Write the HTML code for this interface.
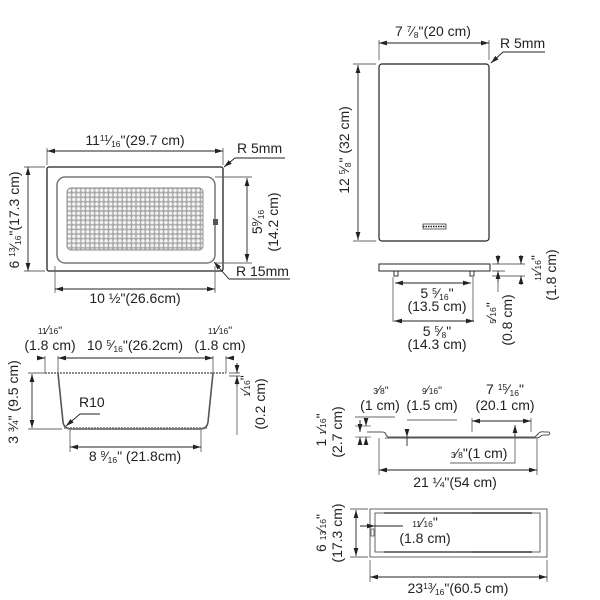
<!DOCTYPE html>
<html><head><meta charset="utf-8"><style>
html,body{margin:0;padding:0;background:#fff;}
svg{display:block;}
text{font-family:"Liberation Sans",Arial,sans-serif;font-size:14px;fill:#222;}
.s{font-size:8.5px;}
</style></head><body>
<svg width="600" height="600" viewBox="0 0 600 600" xmlns="http://www.w3.org/2000/svg">
<defs>
<marker id="a" viewBox="0 0 10 6" refX="10" refY="3" markerWidth="8" markerHeight="5" orient="auto-start-reverse" markerUnits="userSpaceOnUse"><path d="M0,0 L10,3 L0,6z" fill="#222"/></marker>
<pattern id="dots" x="67" y="188" width="4.6" height="4.6" patternUnits="userSpaceOnUse"><rect width="4.6" height="4.6" fill="#aaa"/><circle cx="2.3" cy="2.3" r="1.75" fill="#f4f4f4"/></pattern>
</defs>
<g stroke="#222" fill="none" stroke-width="0.9">
<rect x="47" y="167" width="176" height="104" rx="2" stroke-width="1.3"/>
<rect x="57" y="177" width="158" height="86" rx="8" stroke="#777" stroke-width="1.5"/>
<rect x="67" y="188" width="136" height="62" rx="4" fill="url(#dots)" stroke="#888"/>
<rect x="213" y="219" width="5" height="6" fill="#555" stroke="none"/>
<path d="M47,148 V165 M223,148 V165" stroke="#666"/>
<path d="M47,151 H223" marker-start="url(#a)" marker-end="url(#a)"/>
<path d="M24,167 H45 M24,271 H45" stroke="#666"/>
<path d="M28,167 V271" marker-start="url(#a)" marker-end="url(#a)"/>
<path d="M215,177 H252 M215,263 H252" stroke="#666"/>
<path d="M247,178 V262" marker-start="url(#a)" marker-end="url(#a)"/>
<path d="M55,266 V293 M215,266 V293" stroke="#666"/>
<path d="M55,289 H215" marker-start="url(#a)" marker-end="url(#a)"/>
<path d="M285,158 H235 L224,167" marker-end="url(#a)"/>
<path d="M290,279 H229 L214,262" marker-end="url(#a)"/>
<path d="M45,373 H226" stroke="#666" stroke-width="1.6" stroke-dasharray="2 1"/>
<path d="M58,373 L63,422 Q64,429 72,429 H200 Q207,429 208,422 L213,373" stroke="#555" stroke-width="1.6"/>
<path d="M64,428 H207" stroke="#777" stroke-width="1.5" stroke-dasharray="2 1"/>
<path d="M45,356 V373 M58,356 V373 M213,356 V373 M226,356 V373" stroke="#666"/>
<path d="M37,358 H45" marker-end="url(#a)"/><path d="M58,358 H213" marker-start="url(#a)" marker-end="url(#a)"/><path d="M234,358 H226" marker-end="url(#a)"/>
<path d="M28,373 H45 M28,429 H62" stroke="#666"/>
<path d="M32,374 V428" marker-start="url(#a)" marker-end="url(#a)"/>
<path d="M70,430 V452 M201,430 V452" stroke="#666"/>
<path d="M70,447 H201" marker-start="url(#a)" marker-end="url(#a)"/>
<path d="M100,414 H80 L66,426" marker-end="url(#a)"/>
<path d="M229,373 H240 M229,376 H240" stroke="#666"/>
<path d="M237,363 V373" marker-end="url(#a)"/><path d="M237,386 V376" marker-end="url(#a)"/><path d="M237,386 V435" stroke="#666"/>
<rect x="379" y="64" width="110" height="177" rx="3" stroke-width="1.2"/>
<rect x="423" y="224" width="23" height="5" stroke-width="0.7"/>
<path d="M423,226.5 H446" stroke-width="1.5" stroke-dasharray="1.5 1"/>
<path d="M379,40 V60 M489,40 V60" stroke="#666"/>
<path d="M379,43 H489" marker-start="url(#a)" marker-end="url(#a)"/>
<path d="M353,64 H376 M353,241 H376" stroke="#666"/>
<path d="M358,65 V240" marker-start="url(#a)" marker-end="url(#a)"/>
<path d="M545,52 H503 L491,63" marker-end="url(#a)"/>
<rect x="379" y="264" width="111" height="7" stroke-width="1"/>
<rect x="394" y="271" width="4" height="5" /><rect x="470" y="271" width="4" height="5"/>
<path d="M393,277 V322 M473,277 V322" stroke="#666"/>
<path d="M395,283 H471" marker-start="url(#a)" marker-end="url(#a)"/>
<path d="M394,321 H474" marker-start="url(#a)" marker-end="url(#a)"/>
<path d="M492,264 H525 M492,271 H505 M492,276 H525" stroke="#666"/>
<path d="M498,255 V264" marker-end="url(#a)"/><path d="M498,282 V271" marker-end="url(#a)"/><path d="M498,282 V292" stroke="#666"/>
<path d="M521,255 V264" marker-end="url(#a)"/><path d="M521,285 V276" marker-end="url(#a)"/>
<path d="M367,432 H382 Q386,432 386,435 L388,437 H535 L538,434 Q540,431 545,432 H549 Q551,434 548,435 H545 Q541,435 540,437 L536,438 H385" stroke="#555" stroke-width="1.1"/>
<path d="M355,426 H371 M355,437 H371" stroke="#666" stroke-width="0.7"/>
<path d="M360,420 V432" marker-end="url(#a)"/><path d="M360,444 V437" marker-end="url(#a)"/>
<path d="M366,420 V426" marker-end="url(#a)"/><path d="M366,444 V437" marker-end="url(#a)"/>
<path d="M355,417 H395" stroke="#666"/>
<path d="M407,420 H457" stroke="#666"/>
<path d="M407,430 V437" marker-end="url(#a)"/><path d="M407,446 V438"/>
<path d="M472,418 V432 M531,418 V432" stroke="#666"/>
<path d="M472,421 H531" marker-start="url(#a)" marker-end="url(#a)"/>
<path d="M515,425 V437" marker-start="url(#a)"/><path d="M515,438 V463 H450" stroke="#666"/>
<path d="M379,438 V475 M537,438 V475" stroke="#666"/>
<path d="M379,470 H537" marker-start="url(#a)" marker-end="url(#a)"/>
<rect x="370" y="509" width="177" height="48" stroke="#555"/>
<rect x="375" y="513" width="165" height="39" stroke="#555"/>
<path d="M384,513 H472 M384,552 H472" stroke="#777" stroke-width="2"/>
<path d="M472,513 H532 M472,552 H532" stroke="#333" stroke-width="1.5"/>
<rect x="371" y="529" width="3" height="7" stroke-width="0.6"/>
<path d="M350,509 H368 M350,557 H368" stroke="#666"/>
<path d="M356,510 V556" marker-start="url(#a)" marker-end="url(#a)"/>
<path d="M403,526 H360"/><path d="M362,526 H375" marker-end="url(#a)"/>
<path d="M370,560 V582 M547,560 V582" stroke="#666"/>
<path d="M370,577 H547" marker-start="url(#a)" marker-end="url(#a)"/>
</g>
<g>
<text x="135" y="145" text-anchor="middle">11<tspan class="s" dy="-4">11</tspan><tspan dy="4">⁄</tspan><tspan class="s" dy="2">16</tspan><tspan dy="-2">"(29.7 cm)</tspan></text>
<text x="237" y="153">R 5mm</text>
<text x="236" y="276">R 15mm</text>
<text x="135" y="303" text-anchor="middle">10 ½"(26.6cm)</text>
<text transform="translate(19,220) rotate(-90)" text-anchor="middle">6 <tspan class="s" dy="-4">13</tspan><tspan dy="4">⁄</tspan><tspan class="s" dy="2">16</tspan><tspan dy="-2">"(17.3 cm)</tspan></text>
<text transform="translate(262,222) rotate(-90)" text-anchor="middle">5<tspan class="s" dy="-4">9</tspan><tspan dy="4">⁄</tspan><tspan class="s" dy="2">16</tspan></text>
<text transform="translate(278,222) rotate(-90)" text-anchor="middle">(14.2 cm)</text>
<text x="50" y="334" text-anchor="middle" class="s">11<tspan font-size="12">⁄</tspan>16<tspan font-size="11">"</tspan></text>
<text x="50" y="350" text-anchor="middle">(1.8 cm)</text>
<text x="220" y="334" text-anchor="middle" class="s">11<tspan font-size="12">⁄</tspan>16<tspan font-size="11">"</tspan></text>
<text x="220" y="350" text-anchor="middle">(1.8 cm)</text>
<text x="135" y="350" text-anchor="middle">10 <tspan class="s" dy="-4">5</tspan><tspan dy="4">⁄</tspan><tspan class="s" dy="2">16</tspan><tspan dy="-2">"(26.2cm)</tspan></text>
<text x="79" y="407">R10</text>
<text x="135" y="461" text-anchor="middle">8 <tspan class="s" dy="-4">9</tspan><tspan dy="4">⁄</tspan><tspan class="s" dy="2">16</tspan><tspan dy="-2">" (21.8cm)</tspan></text>
<text transform="translate(18,402) rotate(-90)" text-anchor="middle">3 ¾" (9.5 cm)</text>
<text transform="translate(250,386) rotate(-90)" text-anchor="middle"><tspan class="s">1</tspan>⁄<tspan class="s">16</tspan>"</text>
<text transform="translate(265,404) rotate(-90)" text-anchor="middle">(0.2 cm)</text>
<text x="433" y="36" text-anchor="middle">7 <tspan class="s" dy="-4">7</tspan><tspan dy="4">⁄</tspan><tspan class="s" dy="2">8</tspan><tspan dy="-2">"(20 cm)</tspan></text>
<text x="500" y="48">R 5mm</text>
<text transform="translate(349,150) rotate(-90)" text-anchor="middle">12 <tspan class="s" dy="-4">5</tspan><tspan dy="4">⁄</tspan><tspan class="s" dy="2">8</tspan><tspan dy="-2">" (32 cm)</tspan></text>
<text x="437" y="298" text-anchor="middle">5 <tspan class="s" dy="-4">5</tspan><tspan dy="4">⁄</tspan><tspan class="s" dy="2">16</tspan><tspan dy="-2">"</tspan></text>
<text x="437" y="311" text-anchor="middle">(13.5 cm)</text>
<text x="437" y="336" text-anchor="middle">5 <tspan class="s" dy="-4">5</tspan><tspan dy="4">⁄</tspan><tspan class="s" dy="2">8</tspan><tspan dy="-2">"</tspan></text>
<text x="437" y="349" text-anchor="middle">(14.3 cm)</text>
<text transform="translate(541,268) rotate(-90)" text-anchor="middle"><tspan class="s">11</tspan>⁄<tspan class="s">16</tspan>"</text>
<text transform="translate(556,275) rotate(-90)" text-anchor="middle">(1.8 cm)</text>
<text transform="translate(496,313) rotate(-90)" text-anchor="middle"><tspan class="s">5</tspan>⁄<tspan class="s">16</tspan>"</text>
<text transform="translate(512,320) rotate(-90)" text-anchor="middle">(0.8 cm)</text>
<text x="381" y="394" text-anchor="middle" class="s">3<tspan font-size="12">⁄</tspan>8<tspan font-size="11">"</tspan></text>
<text x="380" y="410" text-anchor="middle">(1 cm)</text>
<text x="432" y="394" text-anchor="middle" class="s">9<tspan font-size="12">⁄</tspan>16<tspan font-size="11">"</tspan></text>
<text x="432" y="410" text-anchor="middle">(1.5 cm)</text>
<text x="505" y="394" text-anchor="middle">7 <tspan class="s" dy="-4">15</tspan><tspan dy="4">⁄</tspan><tspan class="s" dy="2">16</tspan><tspan dy="-2">"</tspan></text>
<text x="505" y="410" text-anchor="middle">(20.1 cm)</text>
<text x="451" y="458"><tspan class="s">3</tspan>⁄<tspan class="s">8</tspan>"(1 cm)</text>
<text x="455" y="487" text-anchor="middle">21 ¼"(54 cm)</text>
<text transform="translate(326,430) rotate(-90)" text-anchor="middle">1 <tspan class="s">1</tspan>⁄<tspan class="s">16</tspan>"</text>
<text transform="translate(342,432) rotate(-90)" text-anchor="middle">(2.7 cm)</text>
<text x="425" y="527" text-anchor="middle"><tspan class="s">11</tspan>⁄<tspan class="s">16</tspan>"</text>
<text x="425" y="543" text-anchor="middle">(1.8 cm)</text>
<text x="458" y="593" text-anchor="middle">23<tspan class="s" dy="-4">13</tspan><tspan dy="4">⁄</tspan><tspan class="s" dy="2">16</tspan><tspan dy="-2">"(60.5 cm)</tspan></text>
<text transform="translate(326,533) rotate(-90)" text-anchor="middle">6 <tspan class="s">13</tspan>⁄<tspan class="s">16</tspan>"</text>
<text transform="translate(342,533) rotate(-90)" text-anchor="middle">(17.3 cm)</text>
</g>
</svg>
</body></html>
